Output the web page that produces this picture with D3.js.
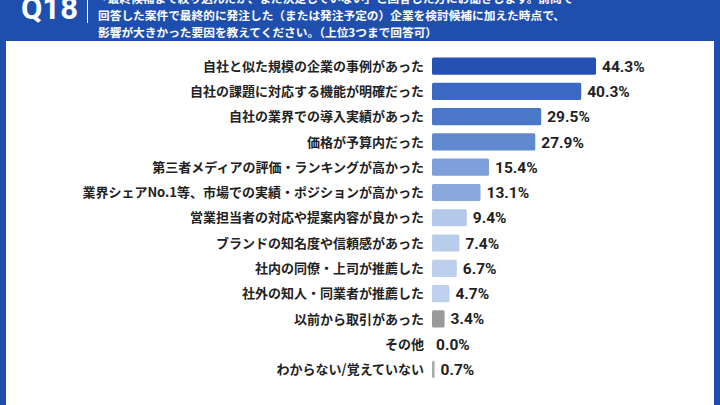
<!DOCTYPE html>
<html>
<head>
<meta charset="utf-8">
<script src="https://cdn.jsdelivr.net/npm/d3@7"></script>
<style>
  body { margin: 0; background: #1f4fae; }
  svg { display: block; font-family: "Noto Sans CJK JP", "Noto Sans", sans-serif; }
</style>
</head>
<body>
<svg width="720" height="405"></svg>
<script>
// chart data
var categories = [
  "自社と似た規模の企業の事例があった",
  "自社の課題に対応する機能が明確だった",
  "自社の業界での導入実績があった",
  "価格が予算内だった",
  "第三者メディアの評価・ランキングが高かった",
  "業界シェアNo.1等、市場での実績・ポジションが高かった",
  "営業担当者の対応や提案内容が良かった",
  "ブランドの知名度や信頼感があった",
  "社内の同僚・上司が推薦した",
  "社外の知人・同業者が推薦した",
  "以前から取引があった",
  "その他",
  "わからない/覚えていない"
];
var values = [44.3, 40.3, 29.5, 27.9, 15.4, 13.1, 9.4, 7.4, 6.7, 4.7, 3.4, 0.0, 0.7];
var barColors = ["#2451b3", "#3b68c2", "#4b77c8", "#6189d0", "#7e9fd9", "#8aa8dc",
                 "#b3c8ea", "#b8cceb", "#bccfed", "#bdd0ee", "#9a9a9a", "#aaaaaa", "#aaaaaa"];
var headerLines = [
  "「最終候補まで絞り込んだが、まだ決定していない」と回答した方にお聞きします。前問で",
  "回答した案件で最終的に発注した（または発注予定の）企業を検討候補に加えた時点で、",
  "影響が大きかった要因を教えてください。（上位3つまで回答可）"
];

var svg = d3.select("svg");

// header
svg.append("rect").attr("width", 720).attr("height", 405).attr("fill", "#1f4fae");
svg.append("text").attr("x", 21).attr("y", 19)
  .attr("fill", "#fff").attr("font-size", 31).attr("font-weight", 700)
  .attr("font-family", "Roboto, 'Liberation Sans', sans-serif")
  .text("Q18");
svg.append("line").attr("x1", 87.5).attr("x2", 87.5).attr("y1", 0).attr("y2", 23)
  .attr("stroke", "#fff").attr("stroke-width", 1);

// header question as one text block
var hd = svg.append("text")
  .attr("fill", "#fff").attr("font-size", 11.7).attr("font-weight", 700);
hd.selectAll("tspan").data(headerLines).enter().append("tspan")
  .attr("x", function(d, i) { return i === 0 ? 96 : 98; })
  .attr("y", function(d, i) { return 3 + i * 17; })
  .text(function(d) { return d; });

// white panel
svg.append("rect").attr("x", 6).attr("y", 41).attr("width", 708).attr("height", 380)
  .attr("fill", "#fff");

var x = d3.scaleLinear().domain([0, 44.3]).range([432, 596]);
var y = d3.scaleBand().domain(categories).range([53.5, 382]).paddingInner(0.32).paddingOuter(0.16);

var g = svg.append("g");

g.selectAll("rect.bar").data(values).enter().append("rect")
  .attr("class", "bar")
  .attr("x", x(0))
  .attr("y", function(d, i) { return y(categories[i]); })
  .attr("width", function(d) { return x(d) - x(0); })
  .attr("height", y.bandwidth())
  .attr("rx", 1.5)
  .attr("fill", function(d, i) { return barColors[i]; });

g.selectAll("text.cat").data(categories).enter().append("text")
  .attr("class", "cat")
  .attr("x", 424)
  .attr("y", function(d) { return y(d) + y.bandwidth() / 2; })
  .attr("dy", "0.36em")
  .attr("text-anchor", "end")
  .attr("font-size", 13).attr("font-weight", 700).attr("fill", "#222")
  .text(function(d) { return d; });

g.selectAll("text.val").data(values).enter().append("text")
  .attr("class", "val")
  .attr("x", function(d) { return x(d) + (d === 0 ? 4 : 6); })
  .attr("y", function(d, i) { return y(categories[i]) + y.bandwidth() / 2; })
  .attr("dy", "0.36em")
  .attr("font-size", 15.5).attr("font-weight", 700).attr("fill", "#222")
  .attr("font-family", "Roboto, 'Liberation Sans', sans-serif")
  .text(function(d) { return d.toFixed(1) + "%"; });
</script>
</body>
</html>
